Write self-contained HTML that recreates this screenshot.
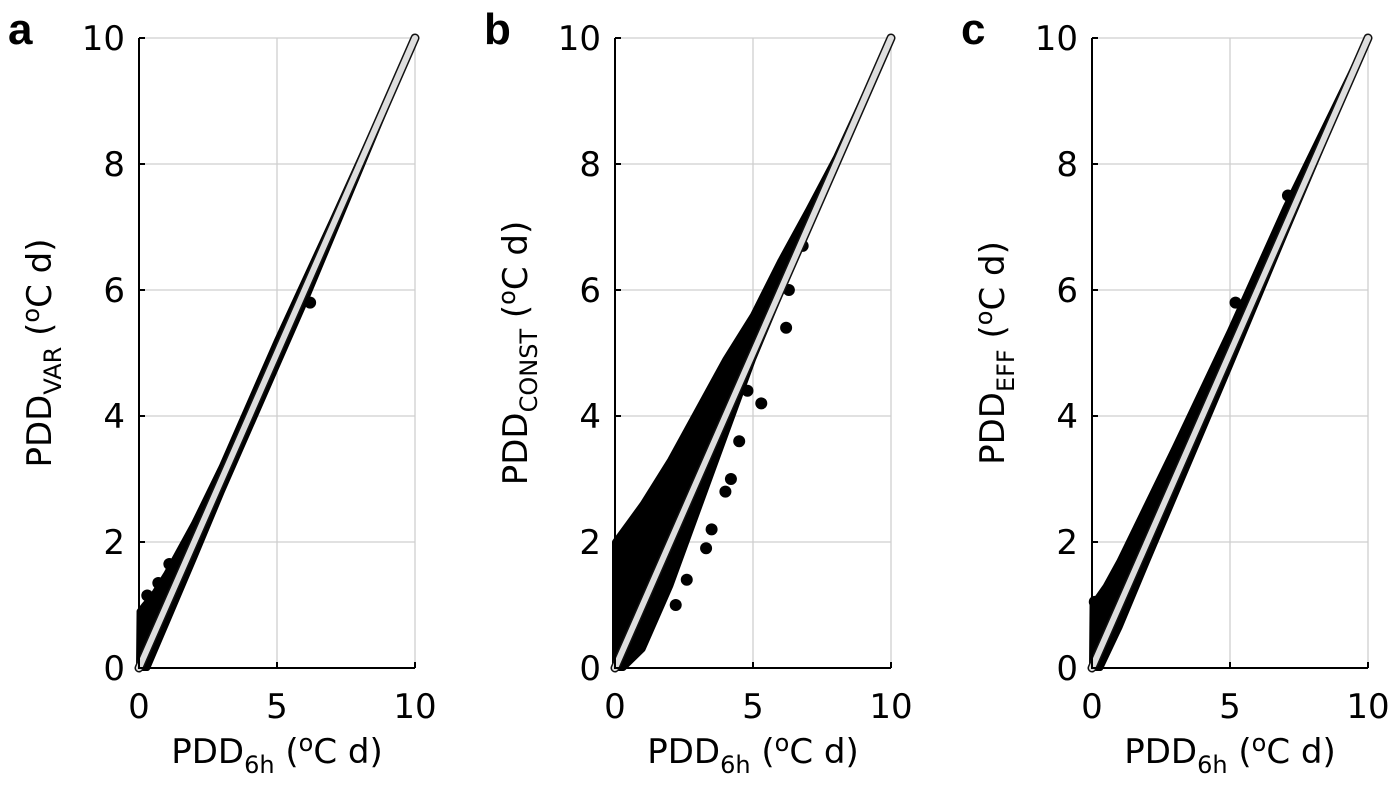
<!DOCTYPE html>
<html><head><meta charset="utf-8"><style>
html,body{margin:0;padding:0;background:#fff;}
svg{display:block;font-family:"DejaVu Sans","Liberation Sans",sans-serif;}
</style></head><body>
<svg id="fig" width="1400" height="802" viewBox="0 0 1400 802"></svg>
<script>
const xTicks=[0,5,10];
const yTicks=[0,2,4,6,8,10];
const panelLetters=["a","b","c"];
const ySubs=["VAR","CONST","EFF"];
const upperA=[[0.02,0.9],[0.2,1.0],[0.5,1.15],[1,1.5],[2,2.3],[3,3.2],[5,5.2],[7,7.1],[10,10]];
const lowerA=[[0.3,0],[1,0.72],[2,1.75],[3,2.8],[5,4.8],[6,5.8],[10,10]];
const outA=[[1.1,1.65],[0.7,1.35],[0.3,1.15],[6.2,5.8],[0.5,1.1]];
const upperB=[[0,2],[0.5,2.3],[1,2.6],[2,3.3],[3,4.1],[4,4.9],[5,5.6],[6,6.47],[7,7.27],[8,8.1],[9,9.05],[10,10]];
const lowerB=[[0.3,0],[1,0.3],[2,1.3],[3,2.5],[4,3.7],[5,4.9],[6,5.95],[10,10]];
const outB=[[4.8,4.4],[5.3,4.2],[6.2,5.4],[6.3,6.0],[4.2,3.0],[3.5,2.2],[2.6,1.4],[2.2,1.0],[4.5,3.6],[6.8,6.7],[3.3,1.9],[4.0,2.8]];
const upperC=[[0.02,1.0],[0.5,1.3],[1,1.7],[2,2.6],[3,3.5],[5,5.35],[7,7.3],[10,10]];
const lowerC=[[0.3,0],[1,0.65],[2,1.7],[5,4.8],[7,6.9],[10,10]];
const outC=[[0.1,1.05],[5.2,5.8],[7.1,7.5]];
const uppers=[upperA,upperB,upperC], lowers=[lowerA,lowerB,lowerC], outs=[outA,outB,outC];
const lefts=[139,615,1092], W=276, yTop=38, yBot=668;
const NS="http://www.w3.org/2000/svg";
const svg=document.getElementById('fig');
function mk(t,a,p){const e=document.createElementNS(NS,t);for(const k in a)e.setAttribute(k,a[k]);(p||svg).appendChild(e);return e;}
for(let p=0;p<3;p++){
  const L=lefts[p];
  const sx=v=>L+v/10*W, sy=v=>yBot-v/10*(yBot-yTop);
  const g=mk('g',{});
  
  
  xTicks.forEach(t=>{if(t>0){const l=mk('line',{x1:sx(t),x2:sx(t),y1:yTop,y2:yBot,stroke:'#cfcfcf','stroke-width':1.3},g);}});
  yTicks.forEach(t=>{if(t>0){const l=mk('line',{x1:L,x2:L+W,y1:sy(t),y2:sy(t),stroke:'#cfcfcf','stroke-width':1.3},g);}});
  const pts=uppers[p].map(d=>sx(d[0])+','+sy(d[1])).concat(lowers[p].slice().reverse().map(d=>sx(d[0])+','+sy(d[1])));
  pts.push(sx(0)+','+sy(0));
  const band=mk('polygon',{points:pts.join(' '),fill:'#000',stroke:'#000','stroke-width':6,'stroke-linejoin':'round'},g);
  
  
  outs[p].forEach(d=>{const c=mk('circle',{cx:sx(d[0]),cy:sy(d[1]),r:6,fill:'#000'},g);});
  const l1=mk('line',{x1:sx(0),y1:sy(0),x2:sx(10),y2:sy(10),stroke:'#111','stroke-width':9,'stroke-linecap':'round'},g);
  
  
  const l2=mk('line',{x1:sx(0),y1:sy(0),x2:sx(10),y2:sy(10),stroke:'#dedede','stroke-width':6,'stroke-linecap':'round'},g);
  
  
  const ax=mk('path',{d:`M${L},${yTop} V${yBot} H${L+W}`,fill:'none',stroke:'#000','stroke-width':2},g);
  
  
  yTicks.forEach(t=>{
    mk('line',{x1:L,x2:L+6,y1:sy(t),y2:sy(t),stroke:'#000','stroke-width':2},g);
    const tx=mk('text',{x:L-14,y:sy(t)+12,'text-anchor':'end','font-size':34},g);
    tx.textContent=t;
    
    
  });
  xTicks.forEach(t=>{
    mk('line',{x1:sx(t),x2:sx(t),y1:yBot,y2:yBot-6,stroke:'#000','stroke-width':2},g);
    const tx=mk('text',{x:sx(t),y:718,'text-anchor':'middle','font-size':34},g);
    tx.textContent=t;
    
    
  });
  const xl=mk('text',{x:L+W/2,y:763,'text-anchor':'middle','font-size':34},g);
  xl.innerHTML='PDD<tspan font-size="24" dy="10">6h</tspan><tspan dy="-10"> (</tspan><tspan font-size="24" dy="-12">o</tspan><tspan dy="12">C d)</tspan>';
  
  
  const yl=mk('text',{x:0,y:0,'text-anchor':'middle','font-size':34,transform:`translate(${L-88},353) rotate(-90)`},g);
  yl.innerHTML='PDD<tspan font-size="24" dy="10">'+ySubs[p]+'</tspan><tspan dy="-10"> (</tspan><tspan font-size="24" dy="-12">o</tspan><tspan dy="12">C d)</tspan>';
  
  
  const pl=mk('text',{x:L-131,y:44,'font-size':44,'font-weight':'bold','font-family':'Liberation Sans, sans-serif'},g);
  pl.textContent=panelLetters[p];
  
  
}
</script>
</body></html>
